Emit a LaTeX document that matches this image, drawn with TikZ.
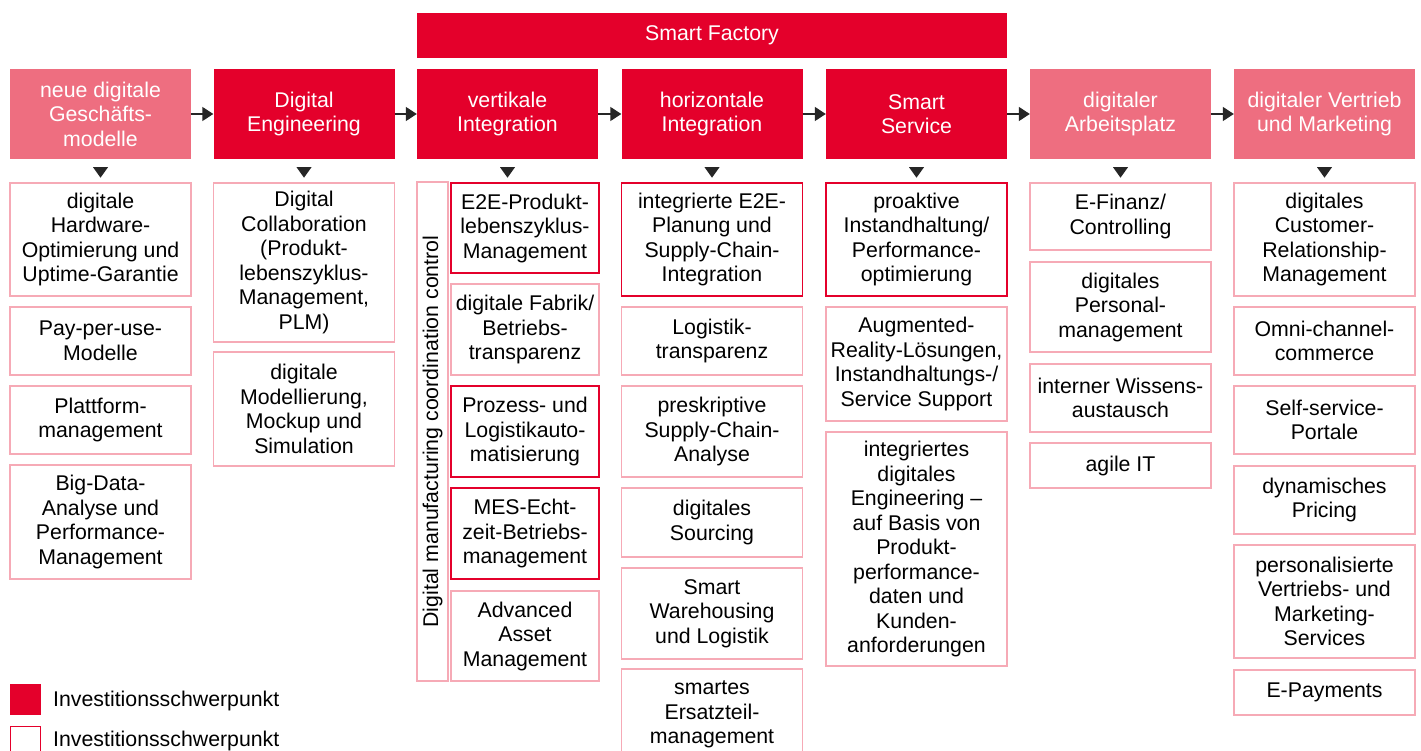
\documentclass[tikz,border=0pt]{standalone}
\usepackage{fontspec}
\setmainfont{Liberation Sans}
\usetikzlibrary{arrows.meta}
\definecolor{fokusrot}{RGB}{228,0,43}
\definecolor{hellrot}{RGB}{238,110,128}
\definecolor{rahmen}{RGB}{246,170,182}

\begin{document}
\begin{tikzpicture}[x=1pt, y=-1pt, >={Triangle[length=11pt,width=14pt]},
    every node/.style={font=\fontsize{21.3}{24.5}\selectfont},
    kopf/.style={fill=fokusrot, text=white, minimum width=181pt, minimum height=90pt, align=center, inner sep=1pt},
    kopfhell/.style={kopf, fill=hellrot},
    feld/.style={draw=rahmen, line width=1.6pt, minimum width=181pt, align=center, inner sep=1pt},
    fokus/.style={feld, draw=fokusrot}]
    \path[use as bounding box, fill=white] (0,0) rectangle (1421,751);

    % Kopfzeile
    \node[kopf, minimum width=590pt, minimum height=45pt] (sf) at (712,35.5) {Smart Factory};
    \node[kopfhell] (neu) at (100.5,114) {neue digitale\\Geschäfts-\\modelle};
    \node[kopf] (eng) at (304,114) {Digital\\Engineering};
    \node[kopf] (vert) at (507.5,114) {vertikale\\Integration};
    \node[kopf] (hori) at (712,114) {horizontale\\Integration};
    \node[kopf] (serv) at (916.5,114) {Smart\\Service};
    \node[kopfhell] (arb) at (1120.5,114) {digitaler\\Arbeitsplatz};
    \node[kopfhell] (vertr) at (1324.5,114) {digitaler Vertrieb\\und Marketing};

    \foreach \a/\b in {neu/eng, eng/vert, vert/hori, hori/serv, serv/arb, arb/vertr}
        \draw[->, line width=1.5pt, black!85] (\a) -- (\b);
    \foreach \k in {neu, eng, vert, hori, serv, arb, vertr}
        \fill[black!85] ([xshift=-7.5pt,yshift=-8pt]\k.south) -- ([xshift=7.5pt,yshift=-8pt]\k.south) -- ([yshift=-18.5pt]\k.south) -- cycle;

    % neue digitale Geschaeftsmodelle
    \node[feld, minimum height=113pt] (n1) at (100.5,239.5) {digitale\\Hardware-\\Optimierung und\\Uptime-Garantie};
    \node[feld, minimum height=68pt] (n2) at (100.5,341) {Pay-per-use-\\Modelle};
    \node[feld, minimum height=68pt] (n3) at (100.5,420) {Plattform-\\management};
    \node[feld, minimum height=114pt] (n4) at (100.5,522) {Big-Data-\\Analyse und\\Performance-\\Management};

    % Digital Engineering
    \node[feld, minimum height=159pt] (e1) at (304,262.5) {Digital\\Collaboration\\(Produkt-\\lebenszyklus-\\Management,\\PLM)};
    \node[feld, minimum height=114pt] (e2) at (304,409) {digitale\\Modellierung,\\Mockup und\\Simulation};

    % vertikale Integration
    \node[feld, rotate=90, minimum width=499pt, minimum height=31pt] (dmcc) at (432.5,431.5) {Digital manufacturing coordination control};
    \node[fokus, minimum width=148pt, minimum height=90pt] (v1) at (525,228) {E2E-Produkt-\\lebenszyklus-\\Management};
    \node[feld, minimum width=148pt, minimum height=91pt] (v2) at (525,329.5) {digitale Fabrik/\\Betriebs-\\transparenz};
    \node[fokus, minimum width=148pt, minimum height=91pt] (v3) at (525,431.5) {Prozess- und\\Logistikauto-\\matisierung};
    \node[fokus, minimum width=148pt, minimum height=91pt] (v4) at (525,533.5) {MES-Echt-\\zeit-Betriebs-\\management};
    \node[feld, minimum width=148pt, minimum height=90pt] (v5) at (525,636) {Advanced\\Asset\\Management};

    % horizontale Integration
    \node[fokus, minimum height=113pt] (h1) at (712,239.5) {integrierte E2E-\\Planung und\\Supply-Chain-\\Integration};
    \node[feld, minimum height=68pt] (h2) at (712,341) {Logistik-\\transparenz};
    \node[feld, minimum height=91pt] (h3) at (712,431.5) {preskriptive\\Supply-Chain-\\Analyse};
    \node[feld, minimum height=69pt] (h4) at (712,522.5) {digitales\\Sourcing};
    \node[feld, minimum height=91pt] (h5) at (712,613.5) {Smart\\Warehousing\\und Logistik};
    \node[feld, minimum height=91pt] (h6) at (712,714.5) {smartes\\Ersatzteil-\\management};

    % Smart Service
    \node[fokus, minimum height=113pt] (s1) at (916.5,239.5) {proaktive\\Instandhaltung/\\Performance-\\optimierung};
    \node[feld, minimum height=114pt] (s2) at (916.5,364) {Augmented-\\Reality-Lösungen,\\Instandhaltungs-/\\Service Support};
    \node[feld, minimum height=234pt] (s3) at (916.5,549) {integriertes\\digitales\\Engineering –\\auf Basis von\\Produkt-\\performance-\\daten und\\Kunden-\\anforderungen};

    % digitaler Arbeitsplatz
    \node[feld, minimum height=67pt] (a1) at (1120.5,216.5) {E-Finanz/\\Controlling};
    \node[feld, minimum height=90pt] (a2) at (1120.5,307) {digitales\\Personal-\\management};
    \node[feld, minimum height=68pt] (a3) at (1120.5,398) {interner Wissens-\\austausch};
    \node[feld, minimum height=45pt] (a4) at (1120.5,465.5) {agile IT};

    % digitaler Vertrieb und Marketing
    \node[feld, minimum height=113pt] (m1) at (1324.5,239.5) {digitales\\Customer-\\Relationship-\\Management};
    \node[feld, minimum height=68pt] (m2) at (1324.5,341) {Omni-channel-\\commerce};
    \node[feld, minimum height=68pt] (m3) at (1324.5,420) {Self-service-\\Portale};
    \node[feld, minimum height=68pt] (m4) at (1324.5,500) {dynamisches\\Pricing};
    \node[feld, minimum height=113pt] (m5) at (1324.5,601.5) {personalisierte\\Vertriebs- und\\Marketing-\\Services};
    \node[feld, minimum height=45pt] (m6) at (1324.5,692.5) {E-Payments};

    % Legende
    \node[fill=fokusrot, minimum size=31pt, inner sep=0pt] (leg1) at (25.5,699.5) {};
    \node[draw=fokusrot, line width=1.6pt, minimum size=30pt, inner sep=0pt] (leg2) at (25.5,741.5) {};
    \node[anchor=west, inner sep=0pt] (legt1) at (53,701) {Investitionsschwerpunkt};
    \node[anchor=west, inner sep=0pt] (legt2) at (53,741) {Investitionsschwerpunkt};
\end{tikzpicture}
\end{document}
